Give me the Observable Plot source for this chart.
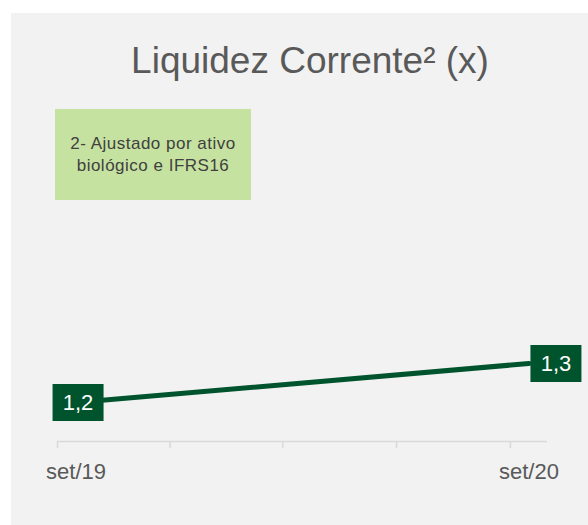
<!DOCTYPE html>
<html><head><meta charset="utf-8">
<script src="https://cdn.jsdelivr.net/npm/d3@7"></script>
<script src="https://cdn.jsdelivr.net/npm/@observablehq/plot@0.6"></script>
<style>
body{margin:0;background:#fff;font-family:"Liberation Sans",Arial,sans-serif;}
#wrap{position:relative;width:588px;height:525px;overflow:hidden;}
#panel{position:absolute;left:11px;top:13px;width:590px;height:530px;background:#f2f2f2;}
#title{position:absolute;left:0;top:29px;width:598px;text-align:center;font-size:37px;line-height:37px;color:#595959;white-space:nowrap;}
#note{position:absolute;left:44px;top:96px;width:196px;height:91px;background:#c6e2a0;color:#404040;font-size:17px;letter-spacing:0.5px;line-height:22px;display:flex;align-items:center;justify-content:center;text-align:center;}
#chart{position:absolute;left:0;top:87px;}
</style>
</head><body>
<div id="wrap"><div id="panel">
<div id="title">Liquidez Corrente² (x)</div>
<div id="chart"></div>
<div id="note">2- Ajustado por ativo<br>biológico e IFRS16</div>
</div></div>
<script>
const months = ["2019-09", "2020-09"];
const monthLabels = ["set/19", "set/20"];
const values = [1.2, 1.3];
const valueLabels = ["1,2", "1,3"];

const green = "#00542d";
const data = months.map((m, i) => ({date: new Date(m + "-01T00:00:00Z"), label: monthLabels[i], value: values[i], text: valueLabels[i]}));
const mid = d => d3.utcDay.offset(d.date, 15);
const start = new Date("2019-09-01T00:00:00Z");
const end = new Date("2020-10-01T00:00:00Z");
const ticks = d3.utcMonth.range(start, end, 3);
const labelTicks = data.map(mid);
const labelFor = t => { const i = labelTicks.findIndex(v => +v === +t); return i >= 0 ? data[i].label : ""; };
const boxSymbol = {draw(ctx) { ctx.rect(-25.5, -18.5, 51, 37); }};
const n = data.length;

const chart = Plot.plot({
  width: 577, height: 400,
  marginLeft: 46, marginRight: 41, marginTop: 29, marginBottom: 59,
  style: {background: "transparent", fontFamily: "'Liberation Sans', Arial, sans-serif", overflow: "visible"},
  x: {type: "utc", domain: [start, end]},
  y: {domain: [1.1, 1.9], axis: null},
  marks: [
    Plot.ruleY([1.1], {stroke: "#d9d9d9", strokeWidth: 1.5}),
    Plot.axisX(ticks, {tickSize: 7, tickFormat: () => "", stroke: "#d9d9d9", strokeWidth: 1.5}),
    Plot.axisX(labelTicks, {tickSize: 0, tickPadding: 22, tickFormat: labelFor, fontSize: 22, fill: "#595959", style: "letter-spacing:0.6px"}),
    Plot.line(data, {x: mid, y: "value", stroke: green, strokeWidth: 5}),
    Plot.dot(data, {filter: (d, i) => i < n - 1, x: mid, y: "value", symbol: boxSymbol, fill: green, stroke: null, dx: 2}),
    Plot.text(data, {filter: (d, i) => i < n - 1, x: mid, y: "value", text: "text", fill: "white", fontSize: 22, dx: 2}),
    Plot.dot(data, {filter: (d, i) => i === n - 1, x: mid, y: "value", symbol: boxSymbol, fill: green, stroke: null, dx: 27}),
    Plot.text(data, {filter: (d, i) => i === n - 1, x: mid, y: "value", text: "text", fill: "white", fontSize: 22, dx: 27})
  ]
});
document.getElementById("chart").appendChild(chart);
</script>
</body></html>
